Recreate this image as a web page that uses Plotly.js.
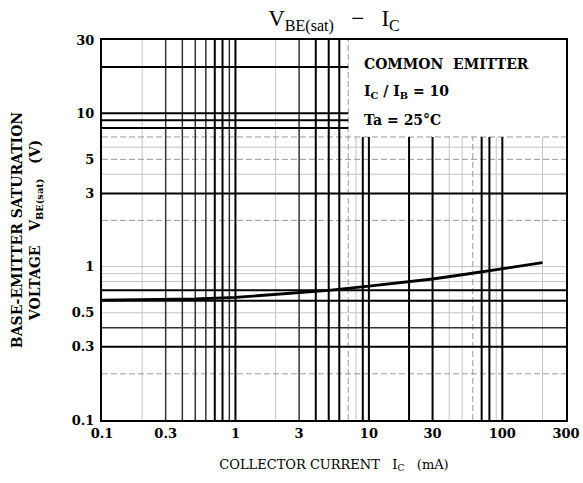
<!DOCTYPE html>
<html>
<head>
<meta charset="utf-8">
<script src="https://cdn.plot.ly/plotly-3.0.1.min.js"></script>
<style>html,body{margin:0;padding:0;background:#fff;}#chart{width:583px;height:483px;}</style>
</head>
<body>
<div id="chart"></div>
<script>
// ---- data ----
const collectorCurrent = [0.1, 0.2, 0.5, 1, 2, 3, 5, 10, 20, 30, 50, 100, 200]; // mA
const vbeSat = [0.605, 0.608, 0.615, 0.63, 0.662, 0.68, 0.70, 0.745, 0.793, 0.83, 0.885, 0.965, 1.06]; // V

const xTickVals = [0.1, 0.3, 1, 3, 10, 30, 100, 300];
const xTickText = ["0.1", "0.3", "1", "3", "10", "30", "100", "300"];
const yTickVals = [0.1, 0.3, 0.5, 1, 3, 5, 10, 30];
const yTickText = ["0.1", "0.3", "0.5", "1", "3", "5", "10", "30"];

// grid lines of the scanned log paper (heavy = printed dark, light = faint)
const gridHeavyX = [0.7, 0.8, 1, 4, 5, 6, 9, 10, 20, 30, 70, 80, 100];
const gridMediumX = [0.3, 0.4, 0.5, 0.6, 0.9, 3];
const gridLightX = [0.2, 2, 8, 40, 50, 90, 200];
const gridDashX = [7, 60];
const gridHeavyY = [0.3, 0.6, 0.7, 3, 8, 9, 10, 20];
const gridMediumY = [0.4];
const gridLightY = [0.5, 0.8, 0.9, 1, 4, 6];
const gridDashY = [0.2, 2, 5, 7];

const xMin = 0.1, xMax = 300, yMin = 0.1, yMax = 30;
const boxX = 7, boxY = 7; // condition box in the upper-right corner

function vlines(vals) {
  const x = [], y = [];
  vals.forEach(v => { x.push(v, v, null); y.push(yMin, v > boxX ? boxY : yMax, null); });
  return {x, y};
}
function hlines(vals) {
  const x = [], y = [];
  vals.forEach(v => { x.push(xMin, v > boxY ? boxX : xMax, null); y.push(v, v, null); });
  return {x, y};
}
function gridTrace(seg, color, width, dash) {
  return {x: seg.x, y: seg.y, mode: 'lines', type: 'scatter', connectgaps: false,
    line: {color: color, width: width, dash: dash || 'solid'}, hoverinfo: 'skip', showlegend: false};
}

const traces = [
  gridTrace(vlines(gridLightX), '#c4c4c4', 1),
  gridTrace(hlines(gridLightY), '#c4c4c4', 1),
  gridTrace(vlines(gridDashX), '#9a9a9a', 1, '6px,3px'),
  gridTrace(hlines(gridDashY), '#9a9a9a', 1, '6px,3px'),
  gridTrace(vlines(gridMediumX), '#333', 1.5),
  gridTrace(hlines(gridMediumY), '#333', 1.5),
  gridTrace(vlines(gridHeavyX), '#000', 2),
  gridTrace(hlines(gridHeavyY), '#000', 2),
  {x: collectorCurrent, y: vbeSat, mode: 'lines', type: 'scatter',
   line: {color: '#000', width: 2.8}, hoverinfo: 'skip', showlegend: false}
];

const serif = 'Liberation Serif, Times New Roman, serif';
const block = 'DejaVu Serif, serif';
const layout = {
  width: 583, height: 483,
  margin: {l: 102, r: 17, t: 40, b: 63},
  paper_bgcolor: '#fff', plot_bgcolor: '#fff',
  font: {family: block, color: '#000', size: 13},
  title: {text: 'V<sub>BE(sat)</sub>   −   I<sub>C</sub>', font: {family: serif, size: 23, color: '#000'},
    x: 0.5, xref: 'paper', xanchor: 'center', y: 0.962, yref: 'container', yanchor: 'middle'},
  xaxis: {type: 'log', range: [Math.log10(xMin), Math.log10(xMax)],
    tickvals: xTickVals, ticktext: xTickText, ticks: '', showgrid: false, zeroline: false,
    showline: true, mirror: true, linecolor: '#000', linewidth: 2,
    tickfont: {family: block, size: 13, color: '#000', weight: 'bold'},
    title: {text: 'COLLECTOR CURRENT   I<sub>C</sub>   (mA)', font: {family: block, size: 13, color: '#000'}, standoff: 20}},
  yaxis: {type: 'log', range: [Math.log10(yMin), Math.log10(yMax)],
    tickvals: yTickVals, ticktext: yTickText, ticks: '', showgrid: false, zeroline: false,
    showline: true, mirror: true, linecolor: '#000', linewidth: 2, ticklabelstandoff: 3,
    tickfont: {family: block, size: 13, color: '#000', weight: 'bold'},
    title: {text: 'BASE-EMITTER SATURATION<br>VOLTAGE   V<sub>BE(sat)</sub>   (V)', font: {family: block, size: 14, color: '#000', weight: 'bold'}, standoff: 28}},
  annotations: [
    {text: 'COMMON  EMITTER', xref: 'paper', yref: 'paper', x: 0.56, y: 0.937, xanchor: 'left', yanchor: 'middle', showarrow: false,
     font: {family: block, size: 14, color: '#000', weight: 'bold'}},
    {text: 'I<sub>C</sub> / I<sub>B</sub> = 10', xref: 'paper', yref: 'paper', x: 0.56, y: 0.862, xanchor: 'left', yanchor: 'middle', showarrow: false,
     font: {family: block, size: 14, color: '#000', weight: 'bold'}},
    {text: 'Ta = 25°C', xref: 'paper', yref: 'paper', x: 0.56, y: 0.79, xanchor: 'left', yanchor: 'middle', showarrow: false,
     font: {family: block, size: 14, color: '#000', weight: 'bold'}}
  ]
};

Plotly.newPlot('chart', traces, layout, {staticPlot: true, displayModeBar: false});
</script>
</body>
</html>
